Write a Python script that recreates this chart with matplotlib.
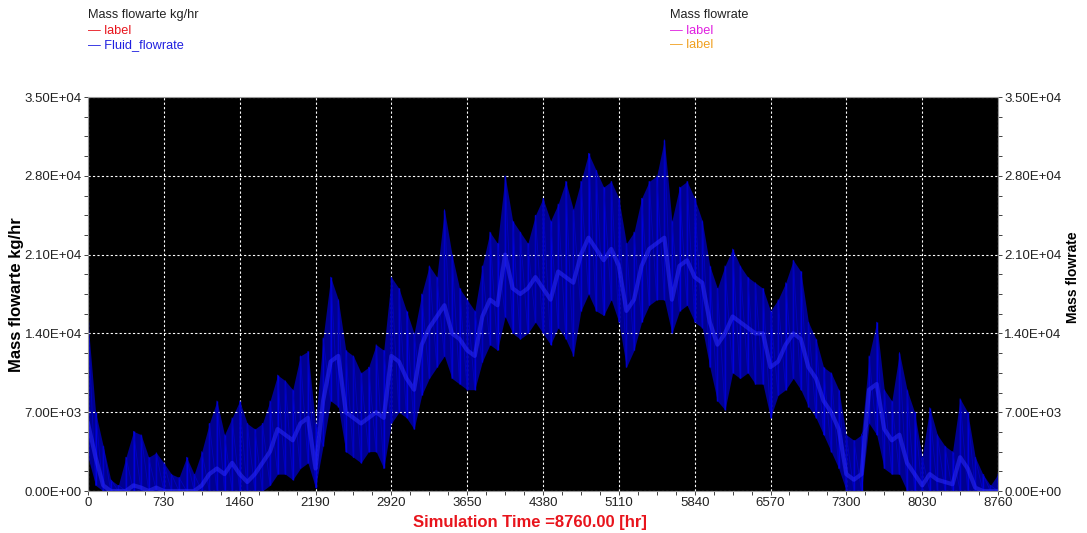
import numpy as np
import matplotlib
matplotlib.use("Agg")
import matplotlib.pyplot as plt
from matplotlib.ticker import MultipleLocator, FuncFormatter

plt.rcParams['font.family'] = ['Liberation Sans', 'DejaVu Sans']

# sample hours (every 73 h) and values (kg/hr)
hours = np.arange(0, 8761, 73)
upper = [15000, 7000, 4000, 1000, 500, 3000, 5300, 5000, 3000, 3400,
         2500, 1500, 1200, 3000, 1500, 3500, 6000, 8000, 5000, 6500,
         8000, 6000, 5500, 6000, 8000, 10300, 9800, 9000, 12000, 12400,
         6000, 13600, 19000, 17000, 12500, 12000, 10500, 11000, 13000, 12500,
         19000, 18000, 16000, 14000, 17500, 20000, 19000, 25000, 21000, 18000,
         17000, 16000, 20000, 23000, 22000, 28000, 24000, 23000, 22000, 24500,
         26000, 24000, 25500, 27500, 25000, 27500, 30000, 28500, 27000, 27500,
         26000, 22000, 23000, 26000, 27500, 28000, 31200, 24000, 27000, 27500,
         26000, 24000, 20000, 18000, 20000, 21500, 20000, 19000, 18500, 18000,
         16000, 17000, 18500, 20500, 19500, 15000, 13500, 11000, 10500, 9000,
         5000, 4500, 5000, 12000, 15000, 9000, 8000, 12300, 9000, 7000,
         3000, 7400, 5000, 4000, 3500, 8200, 7000, 3000, 1500, 500,
         1500]
core = [6000, 3000, 500, 0, 0, 0, 500, 300, 0, 300,
        0, 0, 0, 0, 0, 500, 1500, 2000, 1500, 2500,
        1500, 800, 1500, 2500, 3500, 5500, 5000, 4500, 6000, 6500,
        2000, 8000, 11500, 12000, 7000, 6500, 6000, 6500, 7000, 6500,
        12000, 11500, 10000, 9000, 13000, 14500, 15500, 16500, 14000, 13500,
        12500, 12000, 15500, 17000, 16500, 21000, 18000, 17500, 18000, 19000,
        18000, 17000, 19500, 19000, 18500, 21000, 22500, 21500, 20500, 21500,
        20000, 16000, 17000, 20000, 21500, 22000, 22500, 17000, 20000, 20500,
        19000, 18500, 15000, 13000, 14000, 15500, 15000, 14500, 14000, 14000,
        11000, 11500, 13000, 14000, 13500, 11000, 10000, 8000, 7000, 5500,
        1500, 1000, 1500, 9000, 9500, 5500, 4500, 5000, 2500, 1500,
        500, 1500, 1000, 800, 600, 3000, 2000, 300, 0, 0,
        0]
lower = [3000, 500, 0, 0, 0, 0, 0, 0, 0, 0,
         0, 0, 0, 0, 0, 0, 0, 0, 0, 0,
         0, 0, 0, 0, 500, 1500, 1500, 1000, 2000, 2500,
         300, 4000, 8000, 7500, 3500, 3000, 2500, 3500, 3500, 2000,
         6000, 7000, 6500, 5500, 8500, 10000, 11000, 12000, 10000, 9500,
         9000, 9000, 11500, 13000, 12500, 15500, 14000, 13500, 14000, 15000,
         14000, 13000, 14500, 13500, 12000, 16000, 17500, 16000, 15600, 17000,
         15000, 11000, 12500, 15000, 16500, 17000, 17000, 14000, 16000, 16500,
         15000, 14500, 11000, 8000, 7200, 10500, 10000, 10500, 9500, 9500,
         6500, 8500, 9000, 10000, 9000, 7500, 6500, 5000, 3500, 2000,
         0, 0, 0, 6000, 5000, 2000, 1500, 1500, 0, 0,
         0, 0, 0, 0, 0, 0, 0, 0, 0, 0,
         0]

x_ticks = [0, 730, 1460, 2190, 2920, 3650, 4380, 5110, 5840, 6570, 7300, 8030, 8760]
y_ticks = [0, 7000, 14000, 21000, 28000, 35000]

W, H = 1087, 533
fig = plt.figure(figsize=(W / 100, H / 100), dpi=100)
ax = fig.add_axes([88 / W, 42 / H, 910 / W, 394 / H])
ax.set_facecolor('black')

ax.fill_between(hours, lower, upper, color='#000090', lw=0)
ax.vlines(hours, lower, upper, color='#0000e0', lw=1.0)
zx = np.repeat(hours, 2)
zy = np.ravel(np.column_stack([lower, upper]))
ax.plot(zx, zy, color='#0000c0', lw=0.6)
ax.plot(hours, core, color='#2a2aff', lw=3.0, alpha=0.55)

ax.set_xlim(0, 8760)
ax.set_ylim(0, 35000)
ax.set_xticks(x_ticks)
ax.set_yticks(y_ticks)
ax.xaxis.set_minor_locator(MultipleLocator(182.5))
ax.yaxis.set_minor_locator(MultipleLocator(1750))
ax.yaxis.set_major_formatter(FuncFormatter(lambda v, p: "%.2E" % v))
ax.tick_params(axis='both', which='both', labelsize=9.5, colors='#222222',
               direction='out', length=3, width=0.6, pad=1.5)
ax.tick_params(axis='y', which='both', left=True, right=True,
               labelleft=True, labelright=True)
ax.grid(True, which='major', color='white', linestyle=(0, (2, 2)), lw=0.8)
for s in ax.spines.values():
    s.set_color('#999999')
    s.set_linewidth(0.8)

fig.text(17 / W, 1 - 295 / H, 'Mass flowarte kg/hr', rotation=90, fontsize=12,
         fontweight='bold', color='black', ha='center', va='center')
fig.text(1073 / W, 1 - 277 / H, 'Mass flowrate', rotation=90, fontsize=10,
         fontweight='bold', color='black', ha='center', va='center')
fig.text(530 / W, 1 - 522 / H, 'Simulation Time =8760.00 [hr]', fontsize=12,
         fontweight='bold', color='#e8141c', ha='center', va='center')

def legend_block(x, title, items):
    fig.text(x / W, 1 - 15 / H, title, fontsize=9.2, color='#222222', va='center')
    for i, (lab, col) in enumerate(items):
        y = 1 - (31 + 14 * i) / H
        fig.text(x / W, y, '\u2014 ' + lab, fontsize=9.2, color=col, va='center')

legend_block(88, 'Mass flowarte kg/hr', [('label', '#e8141c'), ('Fluid_flowrate', '#2020e0')])
legend_block(670, 'Mass flowrate', [('label', '#e020e0'), ('label', '#f0a020')])

fig.savefig('out.png', dpi=100)
